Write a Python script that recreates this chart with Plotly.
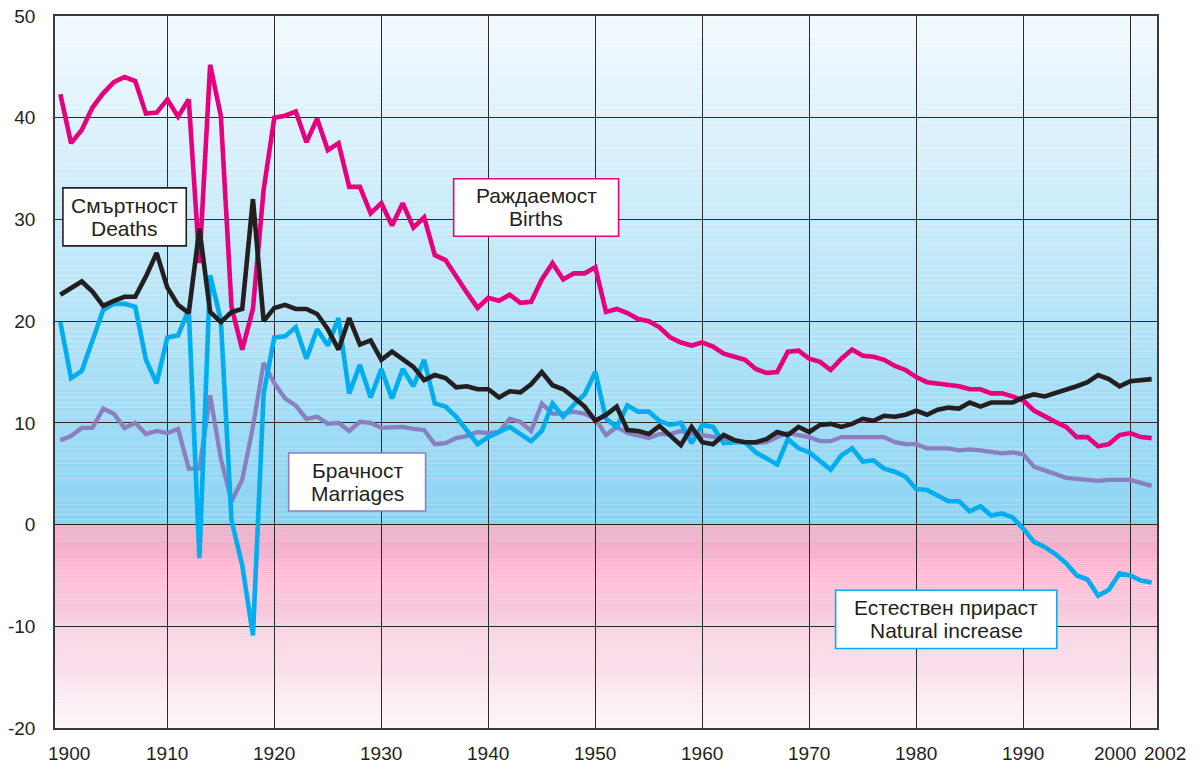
import plotly.graph_objects as go

# ---------------- data ----------------
years = list(range(1900, 2003))

births = [
    42.3, 37.5, 38.8, 41.0, 42.4, 43.5, 44.0, 43.6, 40.4, 40.5,
    41.8, 40.1, 41.8, 25.7, 45.2, 40.2, 21.4, 17.2, 21.2, 32.9,
    40.0, 40.2, 40.6, 37.6, 39.9, 36.8, 37.5, 33.2, 33.2, 30.6,
    31.6, 29.4, 31.6, 29.2, 30.2, 26.5, 26.0, 24.3, 22.8, 21.3,
    22.3, 22.0, 22.6, 21.8, 21.9, 24.1, 25.7, 24.1, 24.7, 24.7,
    25.3, 20.9, 21.2, 20.8, 20.2, 20.0, 19.4, 18.4, 17.9, 17.6,
    17.9, 17.5, 16.8, 16.5, 16.2, 15.3, 14.9, 15.0, 17.0, 17.1,
    16.3, 16.0, 15.2, 16.3, 17.2, 16.6, 16.5, 16.2, 15.6, 15.2,
    14.5, 14.0, 13.9, 13.8, 13.6, 13.3, 13.3, 12.9, 12.9, 12.6,
    12.2, 11.2, 10.6, 10.1, 9.6, 8.6, 8.6, 7.7, 7.9, 8.8,
    9.0, 8.6, 8.5,
]

deaths = [
    22.6, 23.2, 23.9, 22.9, 21.5, 22.0, 22.4, 22.4, 24.4, 26.7,
    23.3, 21.6, 20.8, 29.1, 20.9, 19.9, 20.9, 21.2, 32.0, 20.0,
    21.3, 21.6, 21.2, 21.2, 20.7, 19.2, 17.2, 20.3, 17.7, 18.1,
    16.2, 17.0, 16.3, 15.5, 14.2, 14.7, 14.4, 13.5, 13.6, 13.3,
    13.3, 12.5, 13.1, 13.0, 13.8, 15.0, 13.7, 13.3, 12.5, 11.6,
    10.2, 10.8, 11.6, 9.3, 9.2, 8.9, 9.7, 8.8, 7.8, 9.6,
    8.1, 7.9, 8.8, 8.3, 8.1, 8.1, 8.4, 9.1, 8.8, 9.6,
    9.1, 9.8, 9.9, 9.6, 9.9, 10.4, 10.2, 10.7, 10.6, 10.8,
    11.2, 10.8, 11.3, 11.5, 11.4, 12.0, 11.6, 12.0, 12.0, 12.0,
    12.5, 12.8, 12.6, 12.9, 13.2, 13.6, 14.0, 14.7, 14.3, 13.6,
    14.1, 14.2, 14.3,
]

natural_increase = [
    19.9, 14.4, 15.1, 18.1, 21.1, 21.7, 21.7, 21.4, 16.2, 13.9,
    18.4, 18.6, 21.1, -3.3, 24.5, 20.1, 0.4, -4.0, -10.9, 12.9,
    18.4, 18.5, 19.4, 16.3, 19.2, 17.6, 20.3, 12.9, 15.7, 12.5,
    15.3, 12.4, 15.3, 13.6, 16.2, 11.9, 11.6, 10.6, 9.3, 7.9,
    8.6, 9.1, 9.6, 8.9, 8.2, 9.2, 11.9, 10.6, 11.8, 12.8,
    15.0, 10.4, 9.6, 11.7, 11.1, 11.1, 10.2, 9.8, 10.0, 8.0,
    9.8, 9.6, 8.0, 8.1, 8.1, 7.1, 6.5, 5.9, 8.4, 7.5,
    7.1, 6.3, 5.4, 6.8, 7.5, 6.2, 6.3, 5.5, 5.2, 4.7,
    3.5, 3.4, 2.8, 2.3, 2.3, 1.3, 1.8, 0.9, 1.1, 0.7,
    -0.4, -1.7, -2.2, -2.9, -3.8, -5.0, -5.4, -7.0, -6.4, -4.8,
    -5.0, -5.5, -5.7,
]

marriages = [
    8.3, 8.7, 9.5, 9.5, 11.4, 10.9, 9.5, 10.0, 8.9, 9.2,
    9.0, 9.4, 5.5, 5.5, 12.7, 6.5, 2.3, 4.4, 9.6, 15.9,
    13.9, 12.4, 11.7, 10.4, 10.6, 9.9, 10.0, 9.2, 10.1, 10.0,
    9.5, 9.6, 9.6, 9.4, 9.3, 7.9, 8.0, 8.5, 8.7, 9.1,
    9.0, 9.1, 10.4, 10.1, 9.2, 11.9, 10.9, 10.9, 11.1, 10.9,
    10.4, 8.8, 9.6, 9.0, 8.7, 8.5, 8.9, 8.9, 9.2, 8.9,
    8.8, 8.6, 8.4, 8.2, 8.1, 8.0, 8.1, 8.6, 9.0, 8.8,
    8.6, 8.2, 8.2, 8.6, 8.6, 8.5, 8.5, 8.6, 8.1, 7.9,
    7.9, 7.5, 7.5, 7.5, 7.3, 7.4, 7.3, 7.2, 7.0, 7.1,
    6.9, 5.7, 5.3, 4.9, 4.6, 4.5, 4.4, 4.3, 4.4, 4.4,
    4.4, 4.1, 3.8,
]

x_tick_years = [1900, 1910, 1920, 1930, 1940, 1950, 1960, 1970, 1980, 1990, 2000, 2002]
x_tick_labels = ["1900", "1910", "1920", "1930", "1940", "1950", "1960",
                 "1970", "1980", "1990", "2000", "2002"]
x_grid_years = [1910, 1920, 1930, 1940, 1950, 1960, 1970, 1980, 1990, 2000]
y_tick_values = [-20, -10, 0, 10, 20, 30, 40, 50]

label_deaths = ["Смъртност", "Deaths"]
label_births = ["Раждаемост", "Births"]
label_marriages = ["Брачност", "Marriages"]
label_natural = ["Естествен прираст", "Natural increase"]

# ---------------- style ----------------
FONT = "Liberation Sans, Arial, Helvetica, sans-serif"
TEXT = "#231f20"
C_BIRTHS = "#e6007e"
C_DEATHS = "#231f20"
C_NAT = "#00aeef"
C_MAR = "#8a7fbf"
GRID = "#2b2b2b"

X_RANGE = [1899.5, 2002.5]
Y_RANGE = [-20, 50]


def hex_to_rgb(h):
    h = h.lstrip("#")
    return tuple(int(h[i:i + 2], 16) for i in (0, 2, 4))


def lerp(c1, c2, t):
    a, b = hex_to_rgb(c1), hex_to_rgb(c2)
    return "rgb(%d,%d,%d)" % tuple(round(a[i] + (b[i] - a[i]) * t) for i in range(3))


fig = go.Figure()

# series lines
fig.add_trace(go.Scatter(x=years, y=marriages, mode="lines",
                         line=dict(color=C_MAR, width=4.3), name="Marriages"))
fig.add_trace(go.Scatter(x=years, y=natural_increase, mode="lines",
                         line=dict(color=C_NAT, width=4.6), name="Natural increase"))
fig.add_trace(go.Scatter(x=years, y=births, mode="lines",
                         line=dict(color=C_BIRTHS, width=4.6), name="Births"))
fig.add_trace(go.Scatter(x=years, y=deaths, mode="lines",
                         line=dict(color=C_DEATHS, width=4.6), name="Deaths"))

# gradient background bands (below grid)
shapes = []
N = 100
top_c, zero_blue = "#f3fafe", "#8cd4f3"
zero_pink, bot_c = "#f4a8c7", "#fdf5f9"
for i in range(N):
    y0 = 50 * i / N
    y1 = 50 * (i + 1) / N
    col = lerp(zero_blue, top_c, (i + 0.5) / N)
    shapes.append(dict(type="rect", xref="paper", x0=0, x1=1, yref="y", y0=y0, y1=y1,
                       fillcolor=col, line=dict(width=0), layer="below"))
for i in range(N):
    y0 = -20 * i / N
    y1 = -20 * (i + 1) / N
    col = lerp(zero_pink, bot_c, (i + 0.5) / N)
    shapes.append(dict(type="rect", xref="paper", x0=0, x1=1, yref="y", y0=y1, y1=y0,
                       fillcolor=col, line=dict(width=0), layer="below"))

annotations = []
# x tick labels
x_label_shift = {1900: 9, 2000: -15, 2002: 13}
for yr, lab in zip(x_tick_years, x_tick_labels):
    annotations.append(dict(x=yr, y=0, xref="x", yref="paper", text=lab, showarrow=False,
                            xanchor="center", yanchor="middle", yshift=-25,
                            xshift=x_label_shift.get(yr, 0),
                            font=dict(family=FONT, size=19, color=TEXT)))

# label boxes: (lines, x0, x1, y0, y1, border colour)
boxes = [
    (label_deaths, 1900.24, 1911.77, 27.4, 33.1, C_DEATHS),
    (label_births, 1936.76, 1952.18, 28.35, 34.0, C_BIRTHS),
    (label_marriages, 1921.34, 1934.14, 1.34, 7.04, C_MAR),
    (label_natural, 1972.46, 1993.14, -12.19, -6.46, C_NAT),
]
for lines, x0, x1, y0, y1, bc in boxes:
    shapes.append(dict(type="rect", xref="x", yref="y", x0=x0, x1=x1, y0=y0, y1=y1,
                       fillcolor="white", line=dict(color=bc, width=1.6), layer="above"))
    cx = (x0 + x1) / 2
    cy = (y0 + y1) / 2
    for k, txt in enumerate(lines):
        annotations.append(dict(x=cx, y=cy, xref="x", yref="y", text=txt,
                                showarrow=False, xanchor="center", yanchor="middle",
                                yshift=11.5 if k == 0 else -11.5, borderpad=0,
                                font=dict(family=FONT, size=21, color=TEXT)))

fig.update_layout(
    width=1197, height=765,
    margin=dict(l=55, r=40, t=16, b=37, autoexpand=False),
    paper_bgcolor="white", plot_bgcolor="white",
    showlegend=False,
    shapes=shapes,
    annotations=annotations,
    font=dict(family=FONT, color=TEXT),
    xaxis=dict(range=X_RANGE, tickvals=x_grid_years, showticklabels=False,
               showgrid=True, gridcolor=GRID, gridwidth=1.2, zeroline=False,
               showline=True, mirror=True, linecolor="#3a3a3a", linewidth=1.5,
               ticks="", automargin=False),
    yaxis=dict(range=Y_RANGE, tickvals=y_tick_values,
               ticktext=[str(v) for v in y_tick_values],
               showgrid=True, gridcolor=GRID, gridwidth=1.2,
               zeroline=True, zerolinecolor=GRID, zerolinewidth=1.2,
               showline=True, mirror=True, linecolor="#3a3a3a", linewidth=1.5,
               ticks="", ticklabelstandoff=14, automargin=False,
               tickfont=dict(family=FONT, size=19, color=TEXT)),
)

fig.write_html("out.html",
               config={"displayModeBar": False},
               post_script="document.body.style.margin='0';document.body.style.overflow='hidden';")
